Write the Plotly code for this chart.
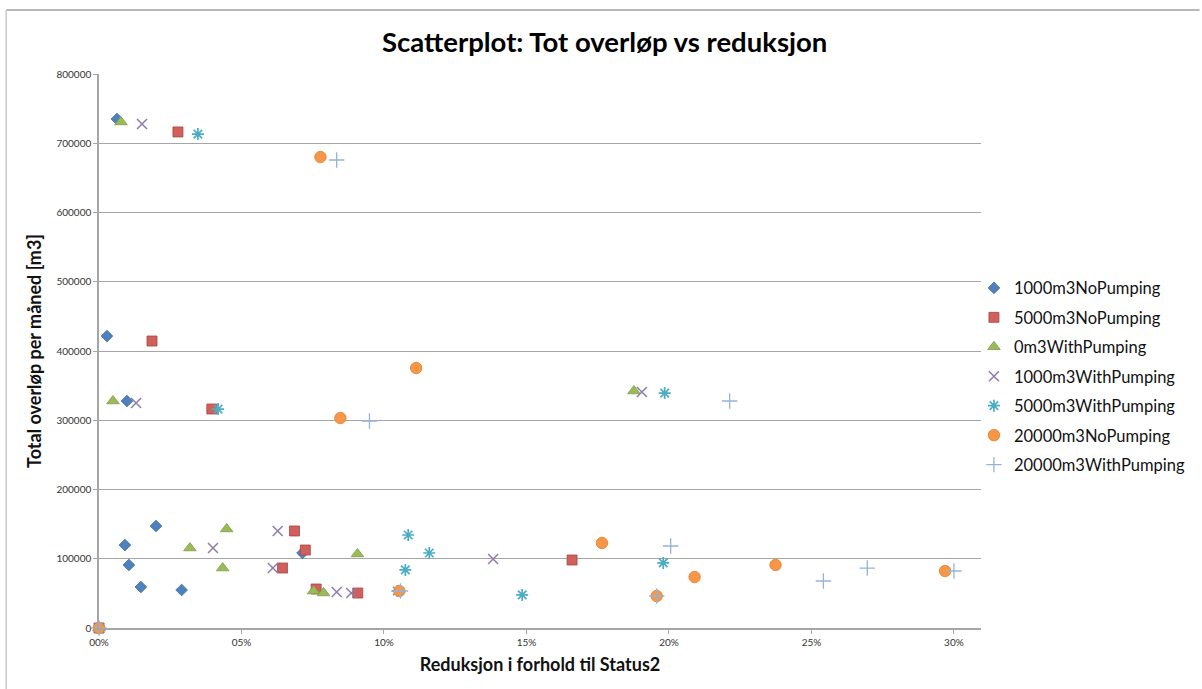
import plotly.graph_objects as go

# ---- data ----
s1_name = "1000m3NoPumping"
s1_x = [0.0063, 0.0028, 0.0098, 0.0091, 0.0105, 0.0200, 0.0147, 0.0290, 0.0714, 0.0]
s1_y = [735000, 421600, 327800, 119800, 91000, 147300, 59200, 54900, 108300, 0]

s2_name = "5000m3NoPumping"
s2_x = [0.0277, 0.0186, 0.0396, 0.0686, 0.0724, 0.0644, 0.0762, 0.0908, 0.1660, 0.0]
s2_y = [716300, 414400, 316200, 140100, 112600, 86600, 56300, 50500, 98200, 0]

s3_name = "0m3WithPumping"
s3_x = [0.0077, 0.0049, 0.1877, 0.0319, 0.0448, 0.0434, 0.0753, 0.0788, 0.0907, 0.0]
s3_y = [730700, 327800, 342200, 115500, 143000, 86600, 53400, 50500, 106900, 0]

s4_name = "1000m3WithPumping"
s4_x = [0.0151, 0.0130, 0.1905, 0.0400, 0.0627, 0.0610, 0.0834, 0.0885, 0.1383, 0.0]
s4_y = [727800, 324900, 340800, 115500, 140100, 86600, 52000, 50500, 99600, 0]

s5_name = "5000m3WithPumping"
s5_x = [0.0347, 0.0418, 0.1985, 0.1085, 0.1159, 0.1075, 0.1485, 0.1980, 0.1047, 0.0]
s5_y = [713300, 316200, 339300, 134300, 108300, 83800, 47700, 93900, 53400, 0]

s6_name = "20000m3NoPumping"
s6_x = [0.0777, 0.0847, 0.1113, 0.1765, 0.1054, 0.1957, 0.2090, 0.2374, 0.2969, 0.0]
s6_y = [680100, 303200, 375400, 122700, 53400, 46200, 73600, 91000, 82300, 0]

s7_name = "20000m3WithPumping"
s7_x = [0.0834, 0.0949, 0.2213, 0.2006, 0.1058, 0.1957, 0.2542, 0.2696, 0.3000, 0.0]
s7_y = [675800, 298900, 327800, 118400, 53400, 46200, 67900, 86600, 82300, 0]

x_tickvals = [0.0, 0.05, 0.10, 0.15, 0.20, 0.25, 0.30]
x_ticktext = ["00%", "05%", "10%", "15%", "20%", "25%", "30%"]
y_tickvals = [0, 100000, 200000, 300000, 400000, 500000, 600000, 700000, 800000]

title_text = "Scatterplot: Tot overløp vs reduksjon"
x_title = "Reduksjon i forhold til Status2"
y_title = "Total overløp per måned [m3]"

FONT = "Lato, 'Open Sans', sans-serif"

fig = go.Figure()

def add_filled(name, xs, ys, symbol, color, edge, size, group):
    fig.add_trace(go.Scatter(
        x=xs, y=ys, mode="markers", name=name, legendgroup=group, cliponaxis=False,
        marker=dict(symbol=symbol, size=size, color=color,
                    line=dict(color=edge, width=0.8)),
    ))

def add_line(name, xs, ys, symbol, color, size, width, group):
    fig.add_trace(go.Scatter(
        x=xs, y=ys, mode="markers", name=name, legendgroup=group, cliponaxis=False,
        marker=dict(symbol=symbol, size=size, color=color,
                    line=dict(color=color, width=width)),
    ))

add_filled(s1_name, s1_x, s1_y, "diamond", "#4F81BD", "#3E6BA0", 9, "g1")
add_filled(s2_name, s2_x, s2_y, "square", "#D0605C", "#A94440", 10, "g2")
add_filled(s3_name, s3_x, s3_y, "triangle-up", "#9BBB59", "#7F9C45", 11, "g3")
add_line(s4_name, s4_x, s4_y, "x-thin-open", "#8E7AB0", 10, 1.5, "g4")
add_line(s5_name, s5_x, s5_y, "asterisk-open", "#4BACC6", 10, 1.7, "g5")
add_filled(s6_name, s6_x, s6_y, "circle", "#F79646", "#E07F2E", 11.5, "g6")
add_line(s7_name, s7_x, s7_y, "cross-thin-open", "#95B3D7", 11, 1.3, "g7")

fig.update_layout(
    width=1202, height=689,
    paper_bgcolor="white", plot_bgcolor="white",
    margin=dict(l=99, r=219, t=74, b=61),
    font=dict(family=FONT, color="#222222"),
    title=dict(text=title_text, x=0.503, xanchor="center", y=0.938, yanchor="middle",
               font=dict(size=27.5, family=FONT, color="#000000", weight="bold")),
    showlegend=True,
    legend=dict(x=0.992, xanchor="left", y=0.645, yanchor="top",
                font=dict(size=16.5, family=FONT, color="#111111"),
                traceorder="grouped", tracegroupgap=5,
                itemsizing="trace", bgcolor="rgba(0,0,0,0)"),
    xaxis=dict(
        range=[0, 0.3095], tickvals=x_tickvals, ticktext=x_ticktext,
        showgrid=False, zeroline=False,
        showline=True, linecolor="#A6A6A6", linewidth=1.5,
        ticks="outside", ticklen=4, tickcolor="#A6A6A6",
        tickfont=dict(size=10, color="#333333"),
        title=dict(text="<b>" + x_title + "</b>", font=dict(size=18, color="#111111"), standoff=12),
    ),
    yaxis=dict(
        range=[0, 800000], tickvals=y_tickvals, tickformat="d",
        showgrid=True, gridcolor="#A6A6A6", gridwidth=1,
        zeroline=False,
        showline=True, linecolor="#A6A6A6", linewidth=1.5,
        ticks="outside", ticklen=4, tickcolor="#A6A6A6",
        tickfont=dict(size=10, color="#333333"),
        title=dict(text="<b>" + y_title + "</b>", font=dict(size=18, color="#111111"), standoff=10),
    ),
    shapes=[
        dict(type="line", xref="paper", yref="paper",
             x0=(6 - 99) / 884, x1=(1202 - 99) / 884,
             y0=(689 - 61 - 10) / 554, y1=(689 - 61 - 10) / 554,
             line=dict(color="#A0A0A0", width=1.5)),
        dict(type="line", xref="paper", yref="paper",
             x0=(6 - 99) / 884, x1=(6 - 99) / 884,
             y0=-61 / 554, y1=(689 - 61 - 10) / 554,
             line=dict(color="#C8C8C8", width=1.5)),
    ],
)

fig.write_html("out.html", config={"displayModeBar": False},
               post_script="document.body.style.margin='0px';")
